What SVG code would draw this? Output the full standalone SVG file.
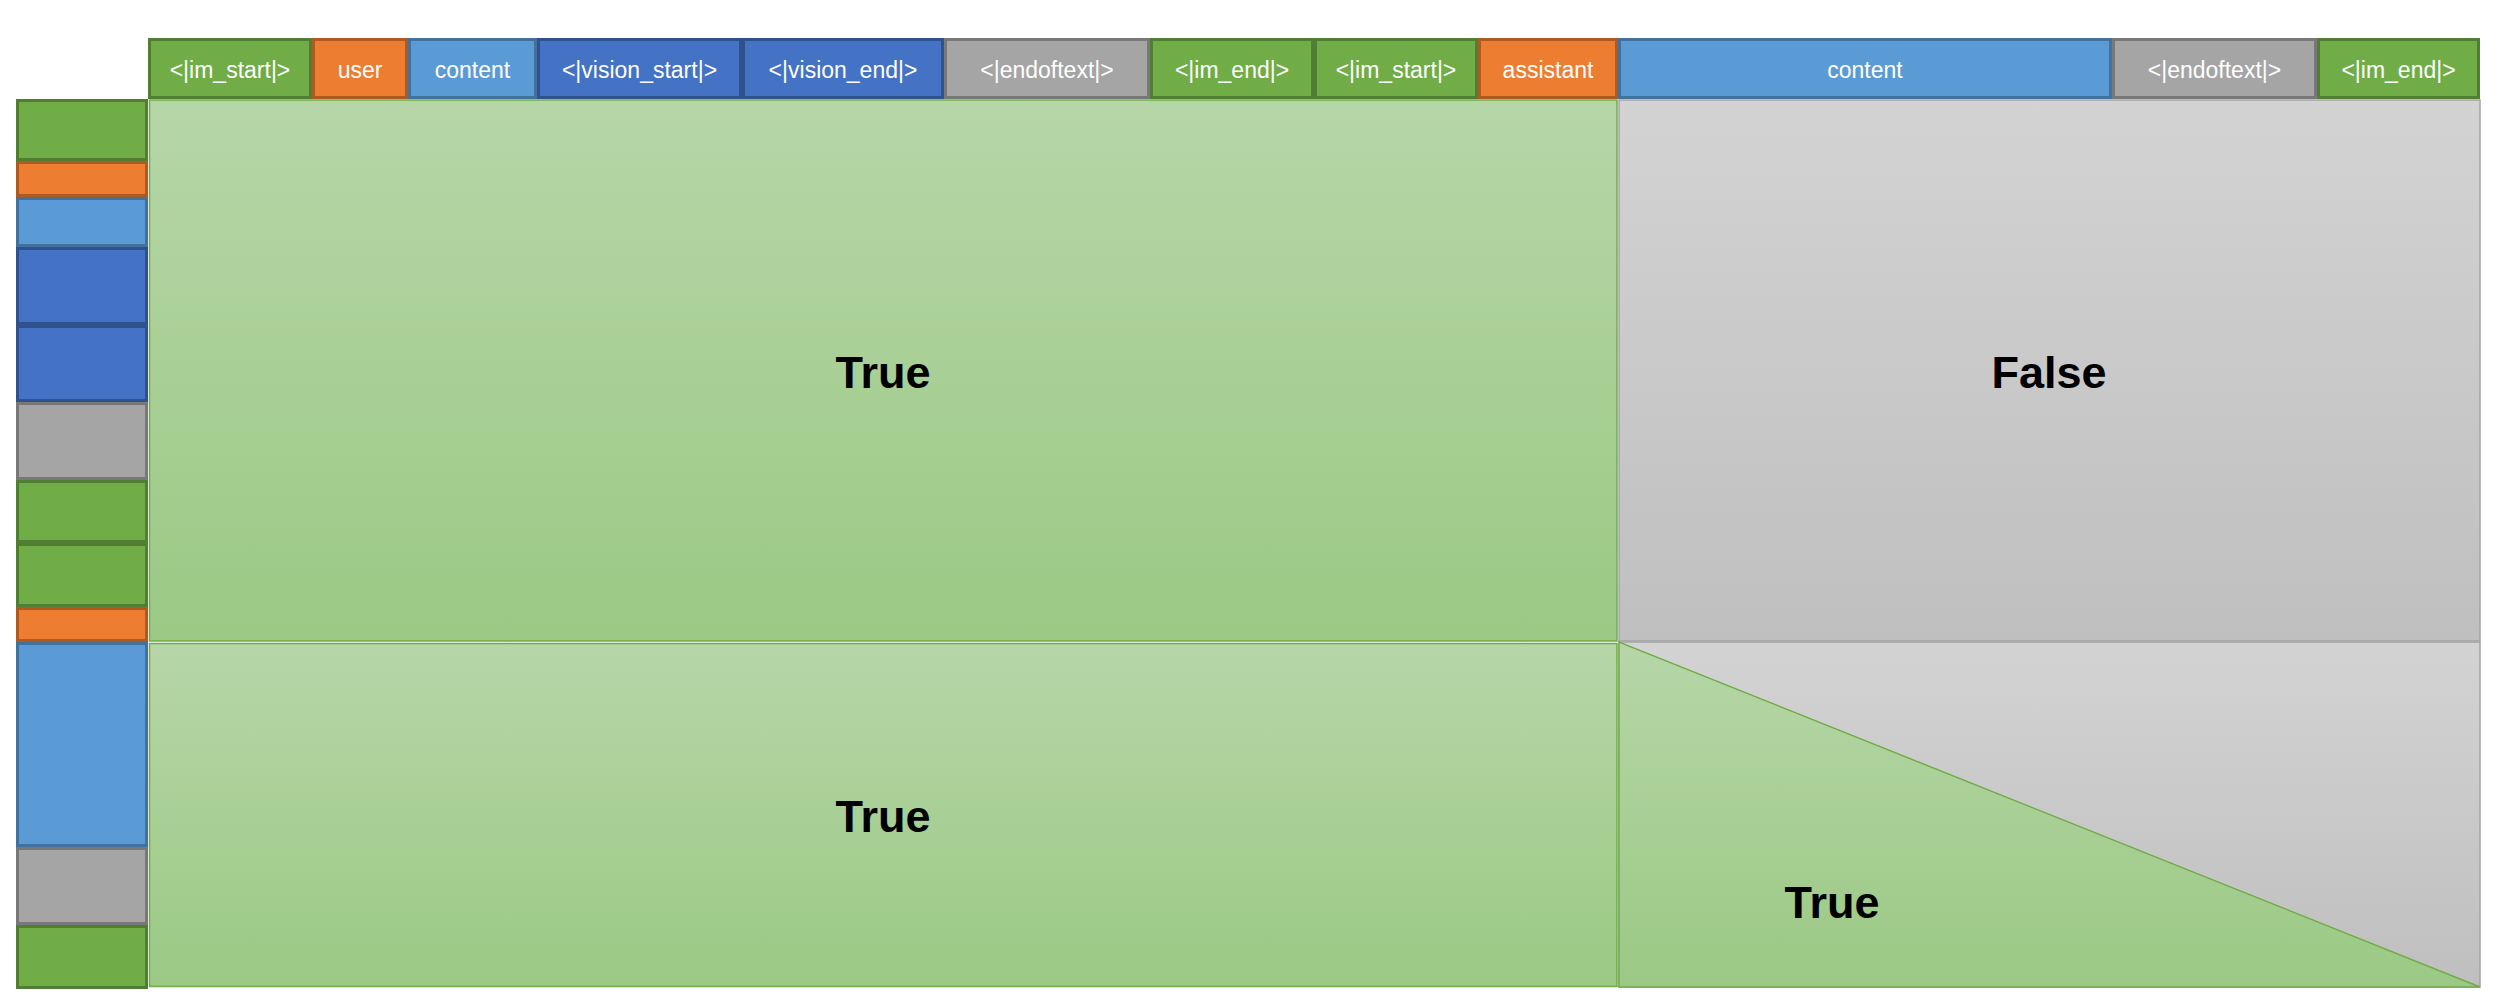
<svg xmlns="http://www.w3.org/2000/svg" width="2497" height="1005" viewBox="0 0 2497 1005">
<defs>
<linearGradient id="gGreen" x1="0" y1="0" x2="0" y2="1"><stop offset="0" stop-color="#B6D6A8"/><stop offset="1" stop-color="#9BC984"/></linearGradient>
<linearGradient id="gGray" x1="0" y1="0" x2="0" y2="1"><stop offset="0" stop-color="#D3D3D3"/><stop offset="1" stop-color="#BFBFBF"/></linearGradient>
</defs>
<style>
.tg{fill:#70AD47;stroke:#507E32;stroke-width:3}
.to{fill:#ED7D31;stroke:#AE5A21;stroke-width:3}
.tl{fill:#5B9BD5;stroke:#41719C;stroke-width:3}
.td{fill:#4472C4;stroke:#2F528F;stroke-width:3}
.ty{fill:#A5A5A5;stroke:#787878;stroke-width:3}
.lab{font-family:"Liberation Sans",Arial,sans-serif;font-size:23px;fill:#FFFFFF;text-anchor:middle}
.big{font-family:"Liberation Sans",Arial,sans-serif;font-size:45px;font-weight:bold;fill:#000000;text-anchor:middle}
.ag{fill:url(#gGreen);stroke:#70AD47;stroke-width:1.5}
.ay{fill:url(#gGray);stroke:#A5A5A5;stroke-width:1.5}
</style>
<g id="areas">
<g id="area-upper-left"><rect class="ag" x="149.5" y="100" width="1467.5" height="541"/><text class="big" x="883" y="388">True</text></g>
<g id="area-upper-right"><rect class="ay" x="1619" y="100" width="861" height="541"/><text class="big" x="2049" y="388">False</text></g>
<g id="area-lower-left"><rect class="ag" x="149.5" y="643.5" width="1467.5" height="343"/><text class="big" x="883" y="832">True</text></g>
<g id="area-lower-right"><rect class="ay" x="1619" y="642" width="861" height="345"/><polygon class="ag" points="1619,642 1619,987 2480,987"/><text class="big" x="1832" y="918">True</text></g>
</g>
<g id="top-tokens">
<g id="t1"><rect class="tg" x="149.5" y="39.5" width="161" height="58"/><text class="lab" x="230" y="77.5">&lt;|im_start|&gt;</text></g>
<g id="t2"><rect class="to" x="313.5" y="39.5" width="93" height="58"/><text class="lab" x="360" y="77.5">user</text></g>
<g id="t3"><rect class="tl" x="409.5" y="39.5" width="126" height="58"/><text class="lab" x="472.5" y="77.5">content</text></g>
<g id="t4"><rect class="td" x="538.5" y="39.5" width="202" height="58"/><text class="lab" x="639.5" y="77.5">&lt;|vision_start|&gt;</text></g>
<g id="t5"><rect class="td" x="743.5" y="39.5" width="199" height="58"/><text class="lab" x="843" y="77.5">&lt;|vision_end|&gt;</text></g>
<g id="t6"><rect class="ty" x="945.5" y="39.5" width="203" height="58"/><text class="lab" x="1047" y="77.5">&lt;|endoftext|&gt;</text></g>
<g id="t7"><rect class="tg" x="1151.5" y="39.5" width="161" height="58"/><text class="lab" x="1232" y="77.5">&lt;|im_end|&gt;</text></g>
<g id="t8"><rect class="tg" x="1315.5" y="39.5" width="161" height="58"/><text class="lab" x="1396" y="77.5">&lt;|im_start|&gt;</text></g>
<g id="t9"><rect class="to" x="1479.5" y="39.5" width="137" height="58"/><text class="lab" x="1548" y="77.5">assistant</text></g>
<g id="t10"><rect class="tl" x="1619.5" y="39.5" width="491" height="58"/><text class="lab" x="1865" y="77.5">content</text></g>
<g id="t11"><rect class="ty" x="2113.5" y="39.5" width="202" height="58"/><text class="lab" x="2214.5" y="77.5">&lt;|endoftext|&gt;</text></g>
<g id="t12"><rect class="tg" x="2318.5" y="39.5" width="160" height="58"/><text class="lab" x="2398.5" y="77.5">&lt;|im_end|&gt;</text></g>
</g>
<g id="left-tokens">
<g id="l1"><rect class="tg" x="17.5" y="100.5" width="129" height="59"/></g>
<g id="l2"><rect class="to" x="17.5" y="162.5" width="129" height="33"/></g>
<g id="l3"><rect class="tl" x="17.5" y="198.5" width="129" height="47"/></g>
<g id="l4"><rect class="td" x="17.5" y="248.5" width="129" height="75"/></g>
<g id="l5"><rect class="td" x="17.5" y="326.5" width="129" height="74"/></g>
<g id="l6"><rect class="ty" x="17.5" y="403.5" width="129" height="75"/></g>
<g id="l7"><rect class="tg" x="17.5" y="481.5" width="129" height="60"/></g>
<g id="l8"><rect class="tg" x="17.5" y="544.5" width="129" height="61"/></g>
<g id="l9"><rect class="to" x="17.5" y="608.5" width="129" height="32"/></g>
<g id="l10"><rect class="tl" x="17.5" y="643.5" width="129" height="202"/></g>
<g id="l11"><rect class="ty" x="17.5" y="848.5" width="129" height="75"/></g>
<g id="l12"><rect class="tg" x="17.5" y="926.5" width="129" height="61"/></g>
</g>
<g id="connectors"/>
</svg>
